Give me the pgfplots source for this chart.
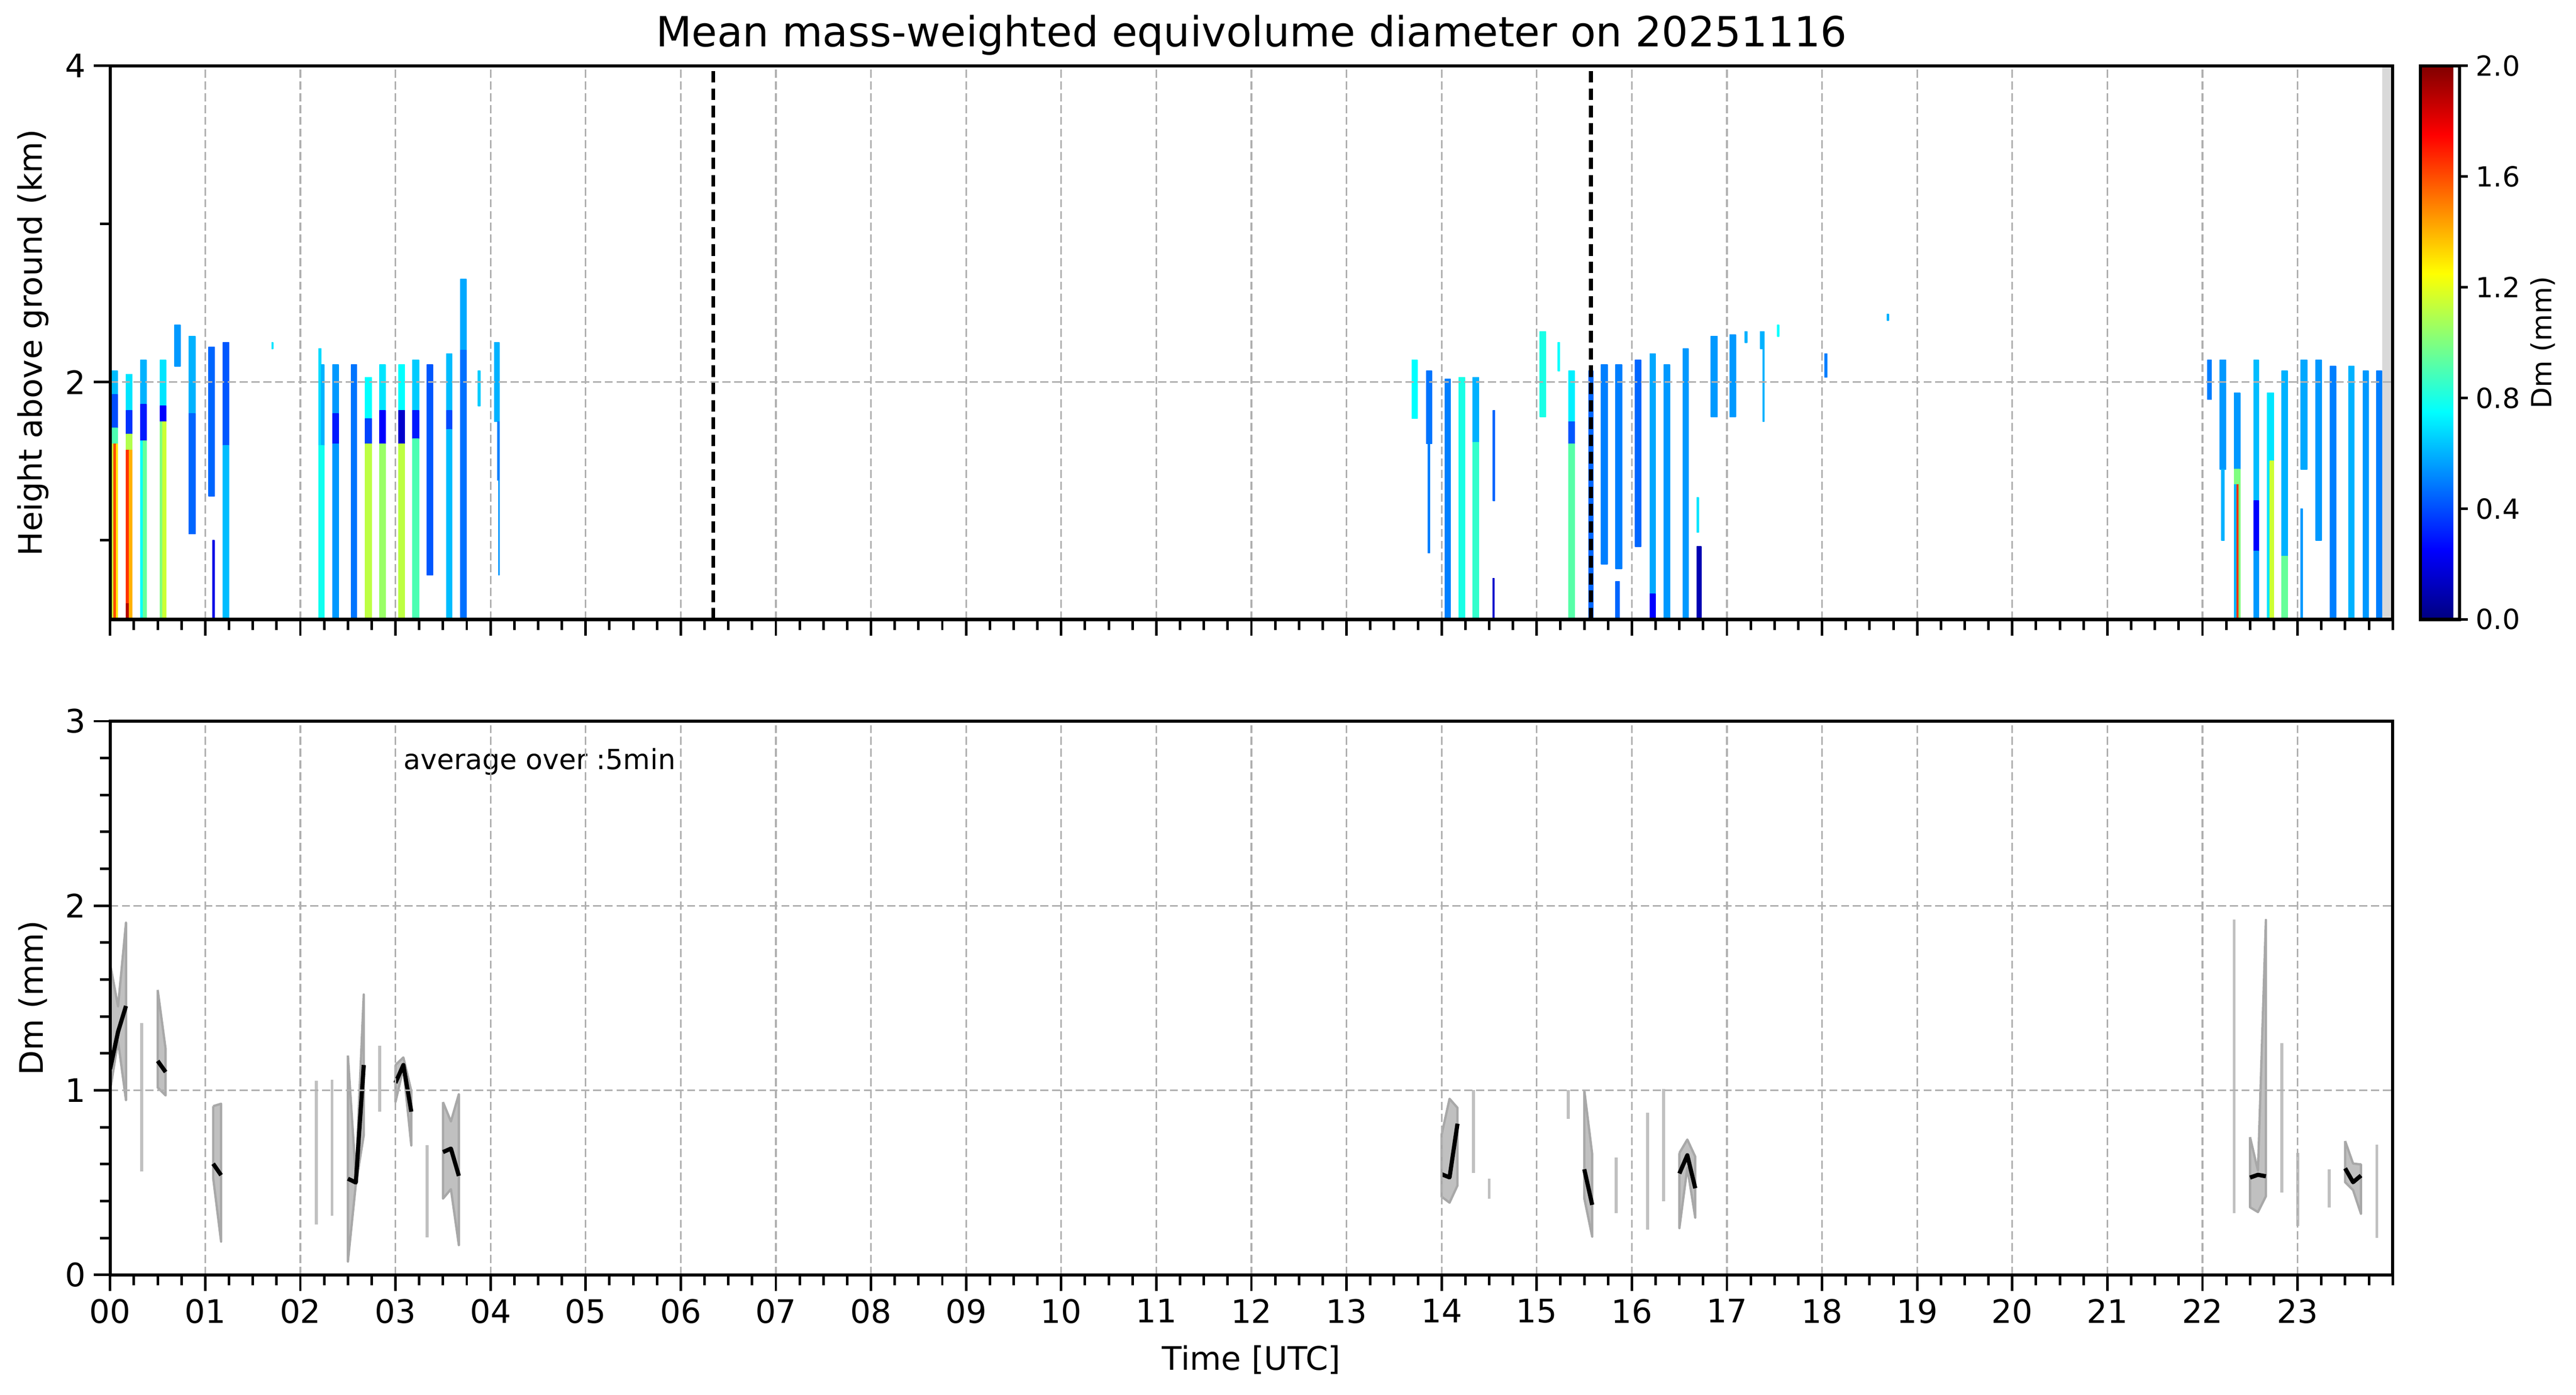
\documentclass[border=0pt]{standalone}
\usepackage{fontspec}
\setmainfont{DejaVu Sans}
\usepackage{pgfplots}
\pgfplotsset{compat=1.18}
\usepgfplotslibrary{patchplots}
\definecolor{gridgray}{HTML}{B0B0B0}
\definecolor{bandfill}{HTML}{C0C0C0}
\definecolor{bandedge}{HTML}{A8A8A8}
\definecolor{nodata}{HTML}{D9D9D9}
\pgfplotsset{
  myaxis/.style={
    scale only axis,
    width=988.6pt,
    xmin=0, xmax=24,
    axis line style={line width=1.4pt},
    every tick/.style={black, line width=1.1pt},
    major tick length=7pt,
    minor tick length=4.5pt,
    tick align=outside,
    tick pos=left,
    xtick={0,1,...,23},
    minor xtick={0,0.25,...,24},
    grid=major,
    major grid style={gridgray, line width=0.7pt, dash pattern=on 3.5pt off 1.6pt},
    axis on top,
    tick label style={font=\fontsize{14}{16}\selectfont},
    label style={font=\fontsize{14}{16}\selectfont},
    /pgf/number format/assume math mode=true,
  },
  band/.style={fill=bandfill, draw=bandedge, line width=1pt, line join=round},
  gline/.style={color=bandfill, line width=1.3pt},
  mline/.style={black, line width=1.8pt, line join=round},
}
\begin{document}
\begin{tikzpicture}
\useasboundingbox (-47.7pt,28.5pt) rectangle (1068pt,-575.6pt);
% ---------------- top panel ----------------
\begin{axis}[myaxis, at={(0,0)}, anchor=north west,
  height=239.8pt, ymin=0.5, ymax=4,
  ytick={2,4}, minor ytick={1,3},
  xticklabels={},
  ylabel={Height above ground (km)},
  ylabel style={at={(axis description cs:-0.0338,0.5)}, anchor=center},
  title={Mean mass-weighted equivolume diameter on 20251116},
  title style={font=\fontsize{18}{21}\selectfont, at={(axis description cs:0.5,1)}, anchor=base, yshift=2.2pt},
  colormap/jet, point meta min=0, point meta max=2,
  colorbar,
  colorbar shift/.style={xshift=12pt},
  colorbar style={
    scale only axis,
    width=17pt,
    at={(parent axis.north east)}, anchor=north west,
    ytick={0,0.4,0.8,1.2,1.6,2.0},
    ytick pos=right, yticklabel pos=right,
    tick align=outside, major tick length=3.5pt,
    every tick/.style={black, line width=1.1pt},
    axis line style={line width=1.4pt},
    /pgf/number format/assume math mode=true,
    yticklabel style={font=\fontsize{12}{14}\selectfont, /pgf/number format/.cd, fixed, fixed zerofill, precision=1},
    ylabel={Dm (mm)},
    ylabel style={font=\fontsize{12}{14}\selectfont, at={(axis description cs:3.12,0.5)}, anchor=center},
  },
]
\addplot[patch, patch type=rectangle, shader=flat, point meta=explicit]
 table[row sep=\\, meta=c] {
x y c \\
0.017 1.92 0.62 \\ 0.079 1.92 0.62 \\ 0.079 2.07 0.62 \\ 0.017 2.07 0.62 \\
0.017 1.71 0.40 \\ 0.079 1.71 0.40 \\ 0.079 1.92 0.40 \\ 0.017 1.92 0.40 \\
0.017 1.61 0.90 \\ 0.079 1.61 0.90 \\ 0.079 1.71 0.90 \\ 0.017 1.71 0.90 \\
0.017 0.50 1.15 \\ 0.040 0.50 1.15 \\ 0.040 1.61 1.15 \\ 0.017 1.61 1.15 \\
0.040 0.50 1.60 \\ 0.065 0.50 1.60 \\ 0.065 1.61 1.60 \\ 0.040 1.61 1.60 \\
0.065 0.50 1.30 \\ 0.079 0.50 1.30 \\ 0.079 1.61 1.30 \\ 0.065 1.61 1.30 \\
0.168 1.82 0.70 \\ 0.231 1.82 0.70 \\ 0.231 2.05 0.70 \\ 0.168 2.05 0.70 \\
0.168 1.67 0.35 \\ 0.231 1.67 0.35 \\ 0.231 1.82 0.35 \\ 0.168 1.82 0.35 \\
0.168 1.57 1.10 \\ 0.231 1.57 1.10 \\ 0.231 1.67 1.10 \\ 0.168 1.67 1.10 \\
0.168 0.60 1.65 \\ 0.200 0.60 1.65 \\ 0.200 1.57 1.65 \\ 0.168 1.57 1.65 \\
0.168 0.50 1.90 \\ 0.200 0.50 1.90 \\ 0.200 0.60 1.90 \\ 0.168 0.60 1.90 \\
0.200 0.50 1.40 \\ 0.231 0.50 1.40 \\ 0.231 1.57 1.40 \\ 0.200 1.57 1.40 \\
0.321 1.86 0.60 \\ 0.381 1.86 0.60 \\ 0.381 2.14 0.60 \\ 0.321 2.14 0.60 \\
0.321 1.63 0.30 \\ 0.381 1.63 0.30 \\ 0.381 1.86 0.30 \\ 0.321 1.86 0.30 \\
0.321 0.50 0.75 \\ 0.350 0.50 0.75 \\ 0.350 1.63 0.75 \\ 0.321 1.63 0.75 \\
0.350 0.50 0.95 \\ 0.381 0.50 0.95 \\ 0.381 1.63 0.95 \\ 0.350 1.63 0.95 \\
0.527 1.85 0.70 \\ 0.586 1.85 0.70 \\ 0.586 2.14 0.70 \\ 0.527 2.14 0.70 \\
0.527 1.75 0.25 \\ 0.586 1.75 0.25 \\ 0.586 1.85 0.25 \\ 0.527 1.85 0.25 \\
0.527 0.50 1.00 \\ 0.555 0.50 1.00 \\ 0.555 1.75 1.00 \\ 0.527 1.75 1.00 \\
0.555 0.50 1.15 \\ 0.586 0.50 1.15 \\ 0.586 1.75 1.15 \\ 0.555 1.75 1.15 \\
0.678 2.10 0.55 \\ 0.737 2.10 0.55 \\ 0.737 2.36 0.55 \\ 0.678 2.36 0.55 \\
0.827 1.80 0.60 \\ 0.894 1.80 0.60 \\ 0.894 2.29 0.60 \\ 0.827 2.29 0.60 \\
0.827 1.04 0.45 \\ 0.894 1.04 0.45 \\ 0.894 1.80 0.45 \\ 0.827 1.80 0.45 \\
1.035 1.28 0.45 \\ 1.098 1.28 0.45 \\ 1.098 2.22 0.45 \\ 1.035 2.22 0.45 \\
1.080 0.50 0.20 \\ 1.095 0.50 0.20 \\ 1.095 1.00 0.20 \\ 1.080 1.00 0.20 \\
1.188 1.60 0.42 \\ 1.250 1.60 0.42 \\ 1.250 2.25 0.42 \\ 1.188 2.25 0.42 \\
1.188 0.50 0.62 \\ 1.250 0.50 0.62 \\ 1.250 1.60 0.62 \\ 1.188 1.60 0.62 \\
1.700 2.21 0.70 \\ 1.715 2.21 0.70 \\ 1.715 2.25 0.70 \\ 1.700 2.25 0.70 \\
2.193 1.60 0.68 \\ 2.220 1.60 0.68 \\ 2.220 2.21 0.68 \\ 2.193 2.21 0.68 \\
2.220 1.60 0.60 \\ 2.250 1.60 0.60 \\ 2.250 2.11 0.60 \\ 2.220 2.11 0.60 \\
2.193 0.50 0.78 \\ 2.250 0.50 0.78 \\ 2.250 1.60 0.78 \\ 2.193 1.60 0.78 \\
2.340 1.80 0.55 \\ 2.399 1.80 0.55 \\ 2.399 2.11 0.55 \\ 2.340 2.11 0.55 \\
2.340 1.61 0.30 \\ 2.399 1.61 0.30 \\ 2.399 1.80 0.30 \\ 2.340 1.80 0.30 \\
2.340 0.50 0.55 \\ 2.399 0.50 0.55 \\ 2.399 1.61 0.55 \\ 2.340 1.61 0.55 \\
2.538 0.50 0.48 \\ 2.593 0.50 0.48 \\ 2.593 2.11 0.48 \\ 2.538 2.11 0.48 \\
2.682 1.77 0.75 \\ 2.749 1.77 0.75 \\ 2.749 2.03 0.75 \\ 2.682 2.03 0.75 \\
2.682 1.61 0.38 \\ 2.749 1.61 0.38 \\ 2.749 1.77 0.38 \\ 2.682 1.77 0.38 \\
2.682 0.50 1.12 \\ 2.749 0.50 1.12 \\ 2.749 1.61 1.12 \\ 2.682 1.61 1.12 \\
2.833 1.82 0.70 \\ 2.895 1.82 0.70 \\ 2.895 2.11 0.70 \\ 2.833 2.11 0.70 \\
2.833 1.61 0.25 \\ 2.895 1.61 0.25 \\ 2.895 1.82 0.25 \\ 2.833 1.82 0.25 \\
2.833 0.50 1.05 \\ 2.895 0.50 1.05 \\ 2.895 1.61 1.05 \\ 2.833 1.61 1.05 \\
3.036 1.82 0.75 \\ 3.097 1.82 0.75 \\ 3.097 2.11 0.75 \\ 3.036 2.11 0.75 \\
3.036 1.61 0.15 \\ 3.097 1.61 0.15 \\ 3.097 1.82 0.15 \\ 3.036 1.82 0.15 \\
3.036 0.50 1.12 \\ 3.097 0.50 1.12 \\ 3.097 1.61 1.12 \\ 3.036 1.61 1.12 \\
3.183 1.82 0.65 \\ 3.245 1.82 0.65 \\ 3.245 2.14 0.65 \\ 3.183 2.14 0.65 \\
3.183 1.64 0.30 \\ 3.245 1.64 0.30 \\ 3.245 1.82 0.30 \\ 3.183 1.82 0.30 \\
3.183 0.50 0.90 \\ 3.245 0.50 0.90 \\ 3.245 1.64 0.90 \\ 3.183 1.64 0.90 \\
3.332 0.78 0.42 \\ 3.392 0.78 0.42 \\ 3.392 2.11 0.42 \\ 3.332 2.11 0.42 \\
3.538 1.82 0.62 \\ 3.592 1.82 0.62 \\ 3.592 2.18 0.62 \\ 3.538 2.18 0.62 \\
3.538 1.70 0.40 \\ 3.592 1.70 0.40 \\ 3.592 1.82 0.40 \\ 3.538 1.82 0.40 \\
3.538 0.50 0.62 \\ 3.592 0.50 0.62 \\ 3.592 1.70 0.62 \\ 3.538 1.70 0.62 \\
3.684 2.20 0.58 \\ 3.745 2.20 0.58 \\ 3.745 2.65 0.58 \\ 3.684 2.65 0.58 \\
3.684 0.50 0.47 \\ 3.745 0.50 0.47 \\ 3.745 2.20 0.47 \\ 3.684 2.20 0.47 \\
3.870 1.85 0.65 \\ 3.890 1.85 0.65 \\ 3.890 2.07 0.65 \\ 3.870 2.07 0.65 \\
4.040 1.75 0.60 \\ 4.092 1.75 0.60 \\ 4.092 2.25 0.60 \\ 4.040 2.25 0.60 \\
4.072 1.38 0.50 \\ 4.092 1.38 0.50 \\ 4.092 1.75 0.50 \\ 4.072 1.75 0.50 \\
4.085 0.78 0.55 \\ 4.092 0.78 0.55 \\ 4.092 1.38 0.55 \\ 4.085 1.38 0.55 \\
13.687 1.77 0.75 \\ 13.745 1.77 0.75 \\ 13.745 2.14 0.75 \\ 13.687 2.14 0.75 \\
13.84 1.61 0.48 \\ 13.896 1.61 0.48 \\ 13.896 2.07 0.48 \\ 13.84 2.07 0.48 \\
13.86 0.92 0.50 \\ 13.875 0.92 0.50 \\ 13.875 1.61 0.50 \\ 13.86 1.61 0.50 \\
14.035 0.50 0.50 \\ 14.094 0.50 0.50 \\ 14.094 2.02 0.50 \\ 14.035 2.02 0.50 \\
14.184 0.50 0.80 \\ 14.244 0.50 0.80 \\ 14.244 2.03 0.80 \\ 14.184 2.03 0.80 \\
14.33 1.62 0.60 \\ 14.39 1.62 0.60 \\ 14.39 2.03 0.60 \\ 14.33 2.03 0.60 \\
14.33 0.50 0.85 \\ 14.39 0.50 0.85 \\ 14.39 1.62 0.85 \\ 14.33 1.62 0.85 \\
14.54 1.25 0.45 \\ 14.56 1.25 0.45 \\ 14.56 1.82 0.45 \\ 14.54 1.82 0.45 \\
14.54 0.50 0.15 \\ 14.55 0.50 0.15 \\ 14.55 0.76 0.15 \\ 14.54 0.76 0.15 \\
15.033 1.78 0.80 \\ 15.096 1.78 0.80 \\ 15.096 2.32 0.80 \\ 15.033 2.32 0.80 \\
15.225 2.07 0.75 \\ 15.242 2.07 0.75 \\ 15.242 2.25 0.75 \\ 15.225 2.25 0.75 \\
15.336 1.75 0.72 \\ 15.395 1.75 0.72 \\ 15.395 2.07 0.72 \\ 15.336 2.07 0.72 \\
15.336 1.61 0.42 \\ 15.395 1.61 0.42 \\ 15.395 1.75 0.42 \\ 15.336 1.75 0.42 \\
15.336 0.50 0.92 \\ 15.395 0.50 0.92 \\ 15.395 1.61 0.92 \\ 15.336 1.61 0.92 \\
15.545 0.50 0.45 \\ 15.593 0.50 0.45 \\ 15.593 2.07 0.45 \\ 15.545 2.07 0.45 \\
15.68 0.85 0.50 \\ 15.743 0.85 0.50 \\ 15.743 2.11 0.50 \\ 15.68 2.11 0.50 \\
15.83 0.82 0.50 \\ 15.894 0.82 0.50 \\ 15.894 2.11 0.50 \\ 15.83 2.11 0.50 \\
15.83 0.50 0.45 \\ 15.87 0.50 0.45 \\ 15.87 0.74 0.45 \\ 15.83 0.74 0.45 \\
16.035 0.96 0.45 \\ 16.094 0.96 0.45 \\ 16.094 2.14 0.45 \\ 16.035 2.14 0.45 \\
16.19 0.66 0.58 \\ 16.248 0.66 0.58 \\ 16.248 2.18 0.58 \\ 16.19 2.18 0.58 \\
16.19 0.50 0.25 \\ 16.248 0.50 0.25 \\ 16.248 0.66 0.25 \\ 16.19 0.66 0.25 \\
16.338 0.50 0.55 \\ 16.40 0.50 0.55 \\ 16.40 2.11 0.55 \\ 16.338 2.11 0.55 \\
16.54 0.50 0.55 \\ 16.595 0.50 0.55 \\ 16.595 2.21 0.55 \\ 16.54 2.21 0.55 \\
16.687 0.50 0.10 \\ 16.729 0.50 0.10 \\ 16.729 0.96 0.10 \\ 16.687 0.96 0.10 \\
16.687 1.05 0.70 \\ 16.70 1.05 0.70 \\ 16.70 1.27 0.70 \\ 16.687 1.27 0.70 \\
16.83 1.78 0.55 \\ 16.90 1.78 0.55 \\ 16.90 2.29 0.55 \\ 16.83 2.29 0.55 \\
17.03 1.78 0.55 \\ 17.09 1.78 0.55 \\ 17.09 2.30 0.55 \\ 17.03 2.30 0.55 \\
17.19 2.25 0.60 \\ 17.21 2.25 0.60 \\ 17.21 2.32 0.60 \\ 17.19 2.32 0.60 \\
17.35 2.21 0.60 \\ 17.39 2.21 0.60 \\ 17.39 2.32 0.60 \\ 17.35 2.32 0.60 \\
17.38 1.75 0.60 \\ 17.39 1.75 0.60 \\ 17.39 2.21 0.60 \\ 17.38 2.21 0.60 \\
17.53 2.29 0.75 \\ 17.545 2.29 0.75 \\ 17.545 2.36 0.75 \\ 17.53 2.36 0.75 \\
18.03 2.03 0.50 \\ 18.05 2.03 0.50 \\ 18.05 2.18 0.50 \\ 18.03 2.18 0.50 \\
18.685 2.39 0.60 \\ 18.70 2.39 0.60 \\ 18.70 2.43 0.60 \\ 18.685 2.43 0.60 \\
22.056 1.89 0.50 \\ 22.095 1.89 0.50 \\ 22.095 2.14 0.50 \\ 22.056 2.14 0.50 \\
22.185 1.45 0.55 \\ 22.246 1.45 0.55 \\ 22.246 2.14 0.55 \\ 22.185 2.14 0.55 \\
22.20 1.00 0.60 \\ 22.23 1.00 0.60 \\ 22.23 1.45 0.60 \\ 22.20 1.45 0.60 \\
22.333 1.45 0.55 \\ 22.397 1.45 0.55 \\ 22.397 1.93 0.55 \\ 22.333 1.93 0.55 \\
22.333 1.35 1.00 \\ 22.397 1.35 1.00 \\ 22.397 1.45 1.00 \\ 22.333 1.45 1.00 \\
22.333 0.50 0.60 \\ 22.360 0.50 0.60 \\ 22.360 1.35 0.60 \\ 22.333 1.35 0.60 \\
22.360 0.50 1.65 \\ 22.385 0.50 1.65 \\ 22.385 1.35 1.65 \\ 22.360 1.35 1.65 \\
22.385 0.50 1.00 \\ 22.397 0.50 1.00 \\ 22.397 1.35 1.00 \\ 22.385 1.35 1.00 \\
22.54 1.25 0.62 \\ 22.59 1.25 0.62 \\ 22.59 2.14 0.62 \\ 22.54 2.14 0.62 \\
22.54 0.93 0.25 \\ 22.59 0.93 0.25 \\ 22.59 1.25 0.25 \\ 22.54 1.25 0.25 \\
22.54 0.50 0.55 \\ 22.59 0.50 0.55 \\ 22.59 0.93 0.55 \\ 22.54 0.93 0.55 \\
22.68 1.50 0.70 \\ 22.75 1.50 0.70 \\ 22.75 1.93 0.70 \\ 22.68 1.93 0.70 \\
22.68 0.50 0.70 \\ 22.71 0.50 0.70 \\ 22.71 1.50 0.70 \\ 22.68 1.50 0.70 \\
22.71 0.50 1.15 \\ 22.75 0.50 1.15 \\ 22.75 1.50 1.15 \\ 22.71 1.50 1.15 \\
22.836 0.90 0.60 \\ 22.894 0.90 0.60 \\ 22.894 2.07 0.60 \\ 22.836 2.07 0.60 \\
22.836 0.50 0.95 \\ 22.894 0.50 0.95 \\ 22.894 0.90 0.95 \\ 22.836 0.90 0.95 \\
23.034 1.45 0.58 \\ 23.098 1.45 0.58 \\ 23.098 2.14 0.58 \\ 23.034 2.14 0.58 \\
23.034 0.50 0.55 \\ 23.050 0.50 0.55 \\ 23.050 1.20 0.55 \\ 23.034 1.20 0.55 \\
23.19 1.00 0.55 \\ 23.25 1.00 0.55 \\ 23.25 2.14 0.55 \\ 23.19 2.14 0.55 \\
23.344 0.50 0.50 \\ 23.402 0.50 0.50 \\ 23.402 2.10 0.50 \\ 23.344 2.10 0.50 \\
23.537 0.50 0.60 \\ 23.595 0.50 0.60 \\ 23.595 2.10 0.60 \\ 23.537 2.10 0.60 \\
23.688 0.50 0.55 \\ 23.746 0.50 0.55 \\ 23.746 2.07 0.55 \\ 23.688 2.07 0.55 \\
23.833 0.50 0.50 \\ 23.886 0.50 0.50 \\ 23.886 2.07 0.50 \\ 23.833 2.07 0.50 \\
};
\addplot[fill=nodata, draw=none] coordinates {(23.89,0.5) (24,0.5) (24,4) (23.89,4) (23.89,0.5)};
\addplot[black, line width=1.6pt, dash pattern=on 5pt off 2.5pt] coordinates {(6.34,0.5) (6.34,4)};
\addplot[black, line width=1.6pt, dash pattern=on 5pt off 2.5pt] coordinates {(15.57,0.5) (15.57,4)};
\end{axis}
% ---------------- bottom panel ----------------
\begin{axis}[myaxis, at={(0,-283.9pt)}, anchor=north west,
  height=239.8pt, ymin=0, ymax=3,
  ytick={0,1,2,3}, minor ytick={0,0.2,...,3},
  xticklabels={00,01,02,03,04,05,06,07,08,09,10,11,12,13,14,15,16,17,18,19,20,21,22,23},
  xlabel={Time [UTC]},
  xlabel style={at={(axis description cs:0.5,0)}, anchor=base, yshift=-41.3pt},
  ylabel={Dm (mm)},
  ylabel style={at={(axis description cs:-0.0338,0.5)}, anchor=center},
]
% bands (min-max range)
\addplot[band] coordinates {(0,1.685) (0.0833,1.454) (0.1667,1.908) (0.1667,0.947) (0.0833,1.267) (0,1.0) (0,1.685)};
\addplot[band] coordinates {(0.5,1.544) (0.5833,1.224) (0.5833,0.972) (0.5,1.015) (0.5,1.544)};
\addplot[band] coordinates {(1.0833,0.914) (1.1667,0.927) (1.1667,0.18) (1.0833,0.526) (1.0833,0.914)};
\addplot[band] coordinates {(2.5,1.188) (2.5833,0.53) (2.6667,1.519) (2.6667,0.756) (2.5833,0.49) (2.5,0.072) (2.5,1.188)};
\addplot[band] coordinates {(3.0,1.137) (3.0833,1.178) (3.1667,0.996) (3.1667,0.701) (3.0833,1.12) (3.0,0.936) (3.0,1.137)};
\addplot[band] coordinates {(3.5,0.936) (3.5833,0.831) (3.6667,0.979) (3.6667,0.161) (3.5833,0.464) (3.5,0.413) (3.5,0.936)};
\addplot[band] coordinates {(14.0,0.76) (14.0833,0.954) (14.1667,0.905) (14.1667,0.484) (14.0833,0.391) (14.0,0.423) (14.0,0.76)};
\addplot[band] coordinates {(15.5,1.0) (15.5833,0.654) (15.5833,0.207) (15.5,0.415) (15.5,1.0)};
\addplot[band] coordinates {(16.5,0.66) (16.5833,0.733) (16.6667,0.64) (16.6667,0.31) (16.5833,0.58) (16.5,0.253) (16.5,0.66)};
\addplot[band] coordinates {(22.5,0.746) (22.5833,0.564) (22.6667,1.923) (22.6667,0.426) (22.5833,0.34) (22.5,0.366) (22.5,0.746)};
\addplot[band] coordinates {(23.5,0.725) (23.5833,0.603) (23.6667,0.598) (23.6667,0.33) (23.5833,0.459) (23.5,0.502) (23.5,0.725)};
% single-interval ranges
\addplot[gline] coordinates {(0.3333,0.559) (0.3333,1.364)};
\addplot[gline] coordinates {(2.1667,0.274) (2.1667,1.051)};
\addplot[gline] coordinates {(2.3333,0.32) (2.3333,1.057)};
\addplot[gline] coordinates {(2.8333,0.884) (2.8333,1.241)};
\addplot[gline] coordinates {(3.3333,0.202) (3.3333,0.703)};
\addplot[gline] coordinates {(14.3333,0.553) (14.3333,1.0)};
\addplot[gline] coordinates {(14.5,0.411) (14.5,0.52)};
\addplot[gline] coordinates {(15.3333,0.844) (15.3333,1.0)};
\addplot[gline] coordinates {(15.8333,0.335) (15.8333,0.637)};
\addplot[gline] coordinates {(16.1667,0.245) (16.1667,0.878)};
\addplot[gline] coordinates {(16.3333,0.398) (16.3333,1.006)};
\addplot[gline] coordinates {(22.3333,0.333) (22.3333,1.925)};
\addplot[gline] coordinates {(22.8333,0.445) (22.8333,1.255)};
\addplot[gline] coordinates {(23.0,0.265) (23.0,0.66)};
\addplot[gline] coordinates {(23.3333,0.366) (23.3333,0.571)};
\addplot[gline] coordinates {(23.8333,0.2) (23.8333,0.706)};
% mean lines
\addplot[mline] coordinates {(0,1.116) (0.0833,1.317) (0.1667,1.457)};
\addplot[mline] coordinates {(0.5,1.159) (0.5833,1.099)};
\addplot[mline] coordinates {(1.0833,0.602) (1.1667,0.54)};
\addplot[mline] coordinates {(2.5,0.521) (2.5833,0.50) (2.6667,1.137)};
\addplot[mline] coordinates {(3.0,1.04) (3.0833,1.137) (3.1667,0.884)};
\addplot[mline] coordinates {(3.5,0.665) (3.5833,0.684) (3.6667,0.536)};
\addplot[mline] coordinates {(14.0,0.545) (14.0833,0.528) (14.1667,0.819)};
\addplot[mline] coordinates {(15.5,0.572) (15.5833,0.379)};
\addplot[mline] coordinates {(16.5,0.549) (16.5833,0.648) (16.6667,0.469)};
\addplot[mline] coordinates {(22.5,0.527) (22.5833,0.542) (22.6667,0.534)};
\addplot[mline] coordinates {(23.5,0.577) (23.5833,0.502) (23.6667,0.538)};
\node[anchor=west, font=\fontsize{12}{14}\selectfont] at (axis cs:3.0,2.78) {average over :5min};
\end{axis}
\end{tikzpicture}
\end{document}
